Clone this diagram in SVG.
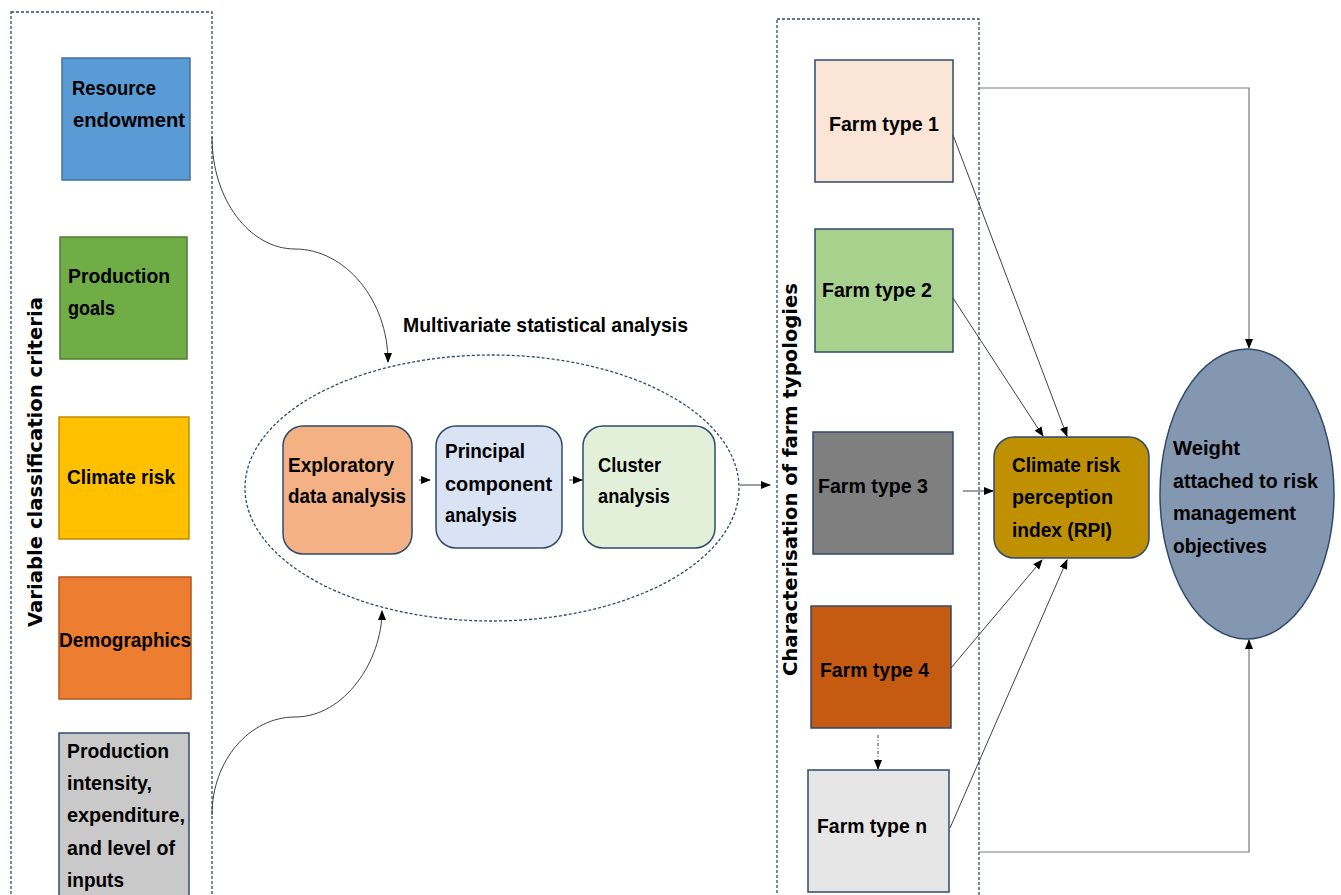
<svg xmlns="http://www.w3.org/2000/svg" width="1341" height="895" viewBox="0 0 1341 895">
<style>
.t{font-family:"Liberation Sans",Arial,sans-serif;font-weight:700;font-size:21px;fill:#000}
.v{font-family:"DejaVu Sans","Liberation Sans",sans-serif;font-weight:700;font-size:20px;fill:#000}
.dash{fill:none;stroke:#2F4A6E;stroke-width:1.3;stroke-dasharray:3 2}
.box{stroke-width:1.5}
.c{fill:none;stroke:#404040;stroke-width:1}
.g{fill:none;stroke:#7a7a7a;stroke-width:1.2}
</style>
<defs>
<marker id="ah" markerWidth="10" markerHeight="10" refX="9" refY="5" orient="auto" markerUnits="userSpaceOnUse">
<path d="M0,1 L10,5 L0,9 Z" fill="#000"/>
</marker>
</defs>
<rect width="1341" height="895" fill="#fff"/>

<g id="left-group">
<rect class="dash" x="11" y="12" width="201" height="900"/>
<text class="v" transform="translate(42,627) rotate(-90)" textLength="330" lengthAdjust="spacingAndGlyphs">Variable classification criteria</text>
</g>

<g id="resource">
<rect class="box" x="62" y="58" width="128" height="122" fill="#5B9BD5" stroke="#41719C"/>
<text class="t" x="72" y="95" textLength="84" lengthAdjust="spacingAndGlyphs">Resource</text>
<text class="t" x="73" y="127" textLength="112" lengthAdjust="spacingAndGlyphs">endowment</text>
</g>
<g id="goals">
<rect class="box" x="60" y="237" width="127" height="122" fill="#70AD47" stroke="#507E32"/>
<text class="t" x="68" y="283" textLength="102" lengthAdjust="spacingAndGlyphs">Production</text>
<text class="t" x="68" y="315" textLength="47" lengthAdjust="spacingAndGlyphs">goals</text>
</g>
<g id="climate">
<rect class="box" x="59" y="417" width="130" height="122" fill="#FFC000" stroke="#BC8C00"/>
<text class="t" x="67" y="484" textLength="108" lengthAdjust="spacingAndGlyphs">Climate risk</text>
</g>
<g id="demographics">
<rect class="box" x="59" y="577" width="132" height="122" fill="#ED7D31" stroke="#AE5A21"/>
<text class="t" x="59" y="647" textLength="132" lengthAdjust="spacingAndGlyphs">Demographics</text>
</g>
<g id="intensity">
<rect class="box" x="59" y="733" width="130" height="170" fill="#C9C9C9" stroke="#2F4A6E"/>
<text class="t" x="67" y="758" textLength="102" lengthAdjust="spacingAndGlyphs">Production</text>
<text class="t" x="67" y="790" textLength="85" lengthAdjust="spacingAndGlyphs">intensity,</text>
<text class="t" x="67" y="822" textLength="118" lengthAdjust="spacingAndGlyphs">expenditure,</text>
<text class="t" x="67" y="855" textLength="108" lengthAdjust="spacingAndGlyphs">and level of</text>
<text class="t" x="67" y="887" textLength="57" lengthAdjust="spacingAndGlyphs">inputs</text>
</g>

<g id="multivariate">
<ellipse class="dash" cx="492" cy="488" rx="247" ry="133"/>
<text class="t" x="403" y="332" style="font-weight:600" textLength="285" lengthAdjust="spacingAndGlyphs">Multivariate statistical analysis</text>
</g>
<g id="exploratory">
<rect class="box" x="283" y="426" width="129" height="128" rx="20" fill="#F4B183" stroke="#2F4A6E"/>
<text class="t" x="288" y="472" textLength="106" lengthAdjust="spacingAndGlyphs">Exploratory</text>
<text class="t" x="288" y="503" textLength="118" lengthAdjust="spacingAndGlyphs">data analysis</text>
</g>
<g id="pca">
<rect class="box" x="436" y="426" width="126" height="122" rx="20" fill="#DAE3F3" stroke="#2F4A6E"/>
<text class="t" x="445" y="458" textLength="80" lengthAdjust="spacingAndGlyphs">Principal</text>
<text class="t" x="445" y="491" textLength="107" lengthAdjust="spacingAndGlyphs">component</text>
<text class="t" x="445" y="522" textLength="72" lengthAdjust="spacingAndGlyphs">analysis</text>
</g>
<g id="cluster">
<rect class="box" x="583" y="426" width="132" height="122" rx="20" fill="#E2F0D9" stroke="#2F4A6E"/>
<text class="t" x="598" y="472" textLength="63" lengthAdjust="spacingAndGlyphs">Cluster</text>
<text class="t" x="598" y="503" textLength="72" lengthAdjust="spacingAndGlyphs">analysis</text>
</g>

<g id="right-group">
<rect class="dash" x="777" y="19" width="202" height="900"/>
<text class="v" transform="translate(797,676) rotate(-90)" textLength="393" lengthAdjust="spacingAndGlyphs">Characterisation of farm typologies</text>
</g>
<g id="ft1">
<rect class="box" x="815" y="60" width="138" height="122" fill="#FBE5D6" stroke="#2F4A6E"/>
<text class="t" x="829" y="131" textLength="110" lengthAdjust="spacingAndGlyphs">Farm type 1</text>
</g>
<g id="ft2">
<rect class="box" x="815" y="229" width="138" height="123" fill="#A9D18E" stroke="#2F4A6E"/>
<text class="t" x="822" y="297" textLength="110" lengthAdjust="spacingAndGlyphs">Farm type 2</text>
</g>
<g id="ft3">
<rect class="box" x="813" y="432" width="140" height="122" fill="#7F7F7F" stroke="#2F4A6E"/>
<text class="t" x="818" y="493" textLength="110" lengthAdjust="spacingAndGlyphs">Farm type 3</text>
</g>
<g id="ft4">
<rect class="box" x="811" y="606" width="140" height="122" fill="#C55A11" stroke="#2F4A6E"/>
<text class="t" x="820" y="677" textLength="109" lengthAdjust="spacingAndGlyphs">Farm type 4</text>
</g>
<g id="ftn">
<rect class="box" x="808" y="770" width="141" height="122" fill="#E7E6E6" stroke="#2F4A6E"/>
<text class="t" x="817" y="833" textLength="110" lengthAdjust="spacingAndGlyphs">Farm type n</text>
</g>
<g id="rpi">
<rect class="box" x="994" y="437" width="155" height="121" rx="20" fill="#BF9000" stroke="#2F4A6E"/>
<text class="t" x="1012" y="472" textLength="108" lengthAdjust="spacingAndGlyphs">Climate risk</text>
<text class="t" x="1012" y="504" textLength="101" lengthAdjust="spacingAndGlyphs">perception</text>
<text class="t" x="1012" y="537" textLength="100" lengthAdjust="spacingAndGlyphs">index (RPI)</text>
</g>
<g id="weight">
<ellipse cx="1247" cy="494" rx="87" ry="145" fill="#8497B0" stroke="#2F4A6E" stroke-width="1.5"/>
<text class="t" x="1173" y="455" textLength="67" lengthAdjust="spacingAndGlyphs">Weight</text>
<text class="t" x="1173" y="488" textLength="145" lengthAdjust="spacingAndGlyphs">attached to risk</text>
<text class="t" x="1173" y="520" textLength="123" lengthAdjust="spacingAndGlyphs">management</text>
<text class="t" x="1173" y="553" textLength="94" lengthAdjust="spacingAndGlyphs">objectives</text>
</g>

<g id="connectors">
<path class="c" d="M212,137 C212,200 250,249 295,249 C345,249 388,300 388,362" marker-end="url(#ah)"/>
<path class="c" d="M212,815 C212,760 250,717 295,717 C345,717 382,660 382,611" marker-end="url(#ah)"/>
<path class="c" d="M419,480 L430,480" marker-end="url(#ah)"/>
<path class="c" d="M569,480 L582,480" marker-end="url(#ah)"/>
<path class="c" d="M740,485 L770,485" marker-end="url(#ah)"/>
<path class="g" d="M979,88 L1249,88 L1249,348" marker-end="url(#ah)"/>
<path class="g" d="M979,852 L1249,852 L1249,640" marker-end="url(#ah)"/>
<path class="c" d="M953,135 L1067,436" marker-end="url(#ah)"/>
<path class="c" d="M953,298 L1043,436" marker-end="url(#ah)"/>
<path class="c" d="M963,491 L993,491" marker-end="url(#ah)"/>
<path class="c" d="M951,668 L1042,560" marker-end="url(#ah)"/>
<path class="c" d="M950,828 L1067,560" marker-end="url(#ah)"/>
<path class="c" d="M878,735 L878,769" stroke-dasharray="3 2 1 2" marker-end="url(#ah)"/>
</g>
</svg>
